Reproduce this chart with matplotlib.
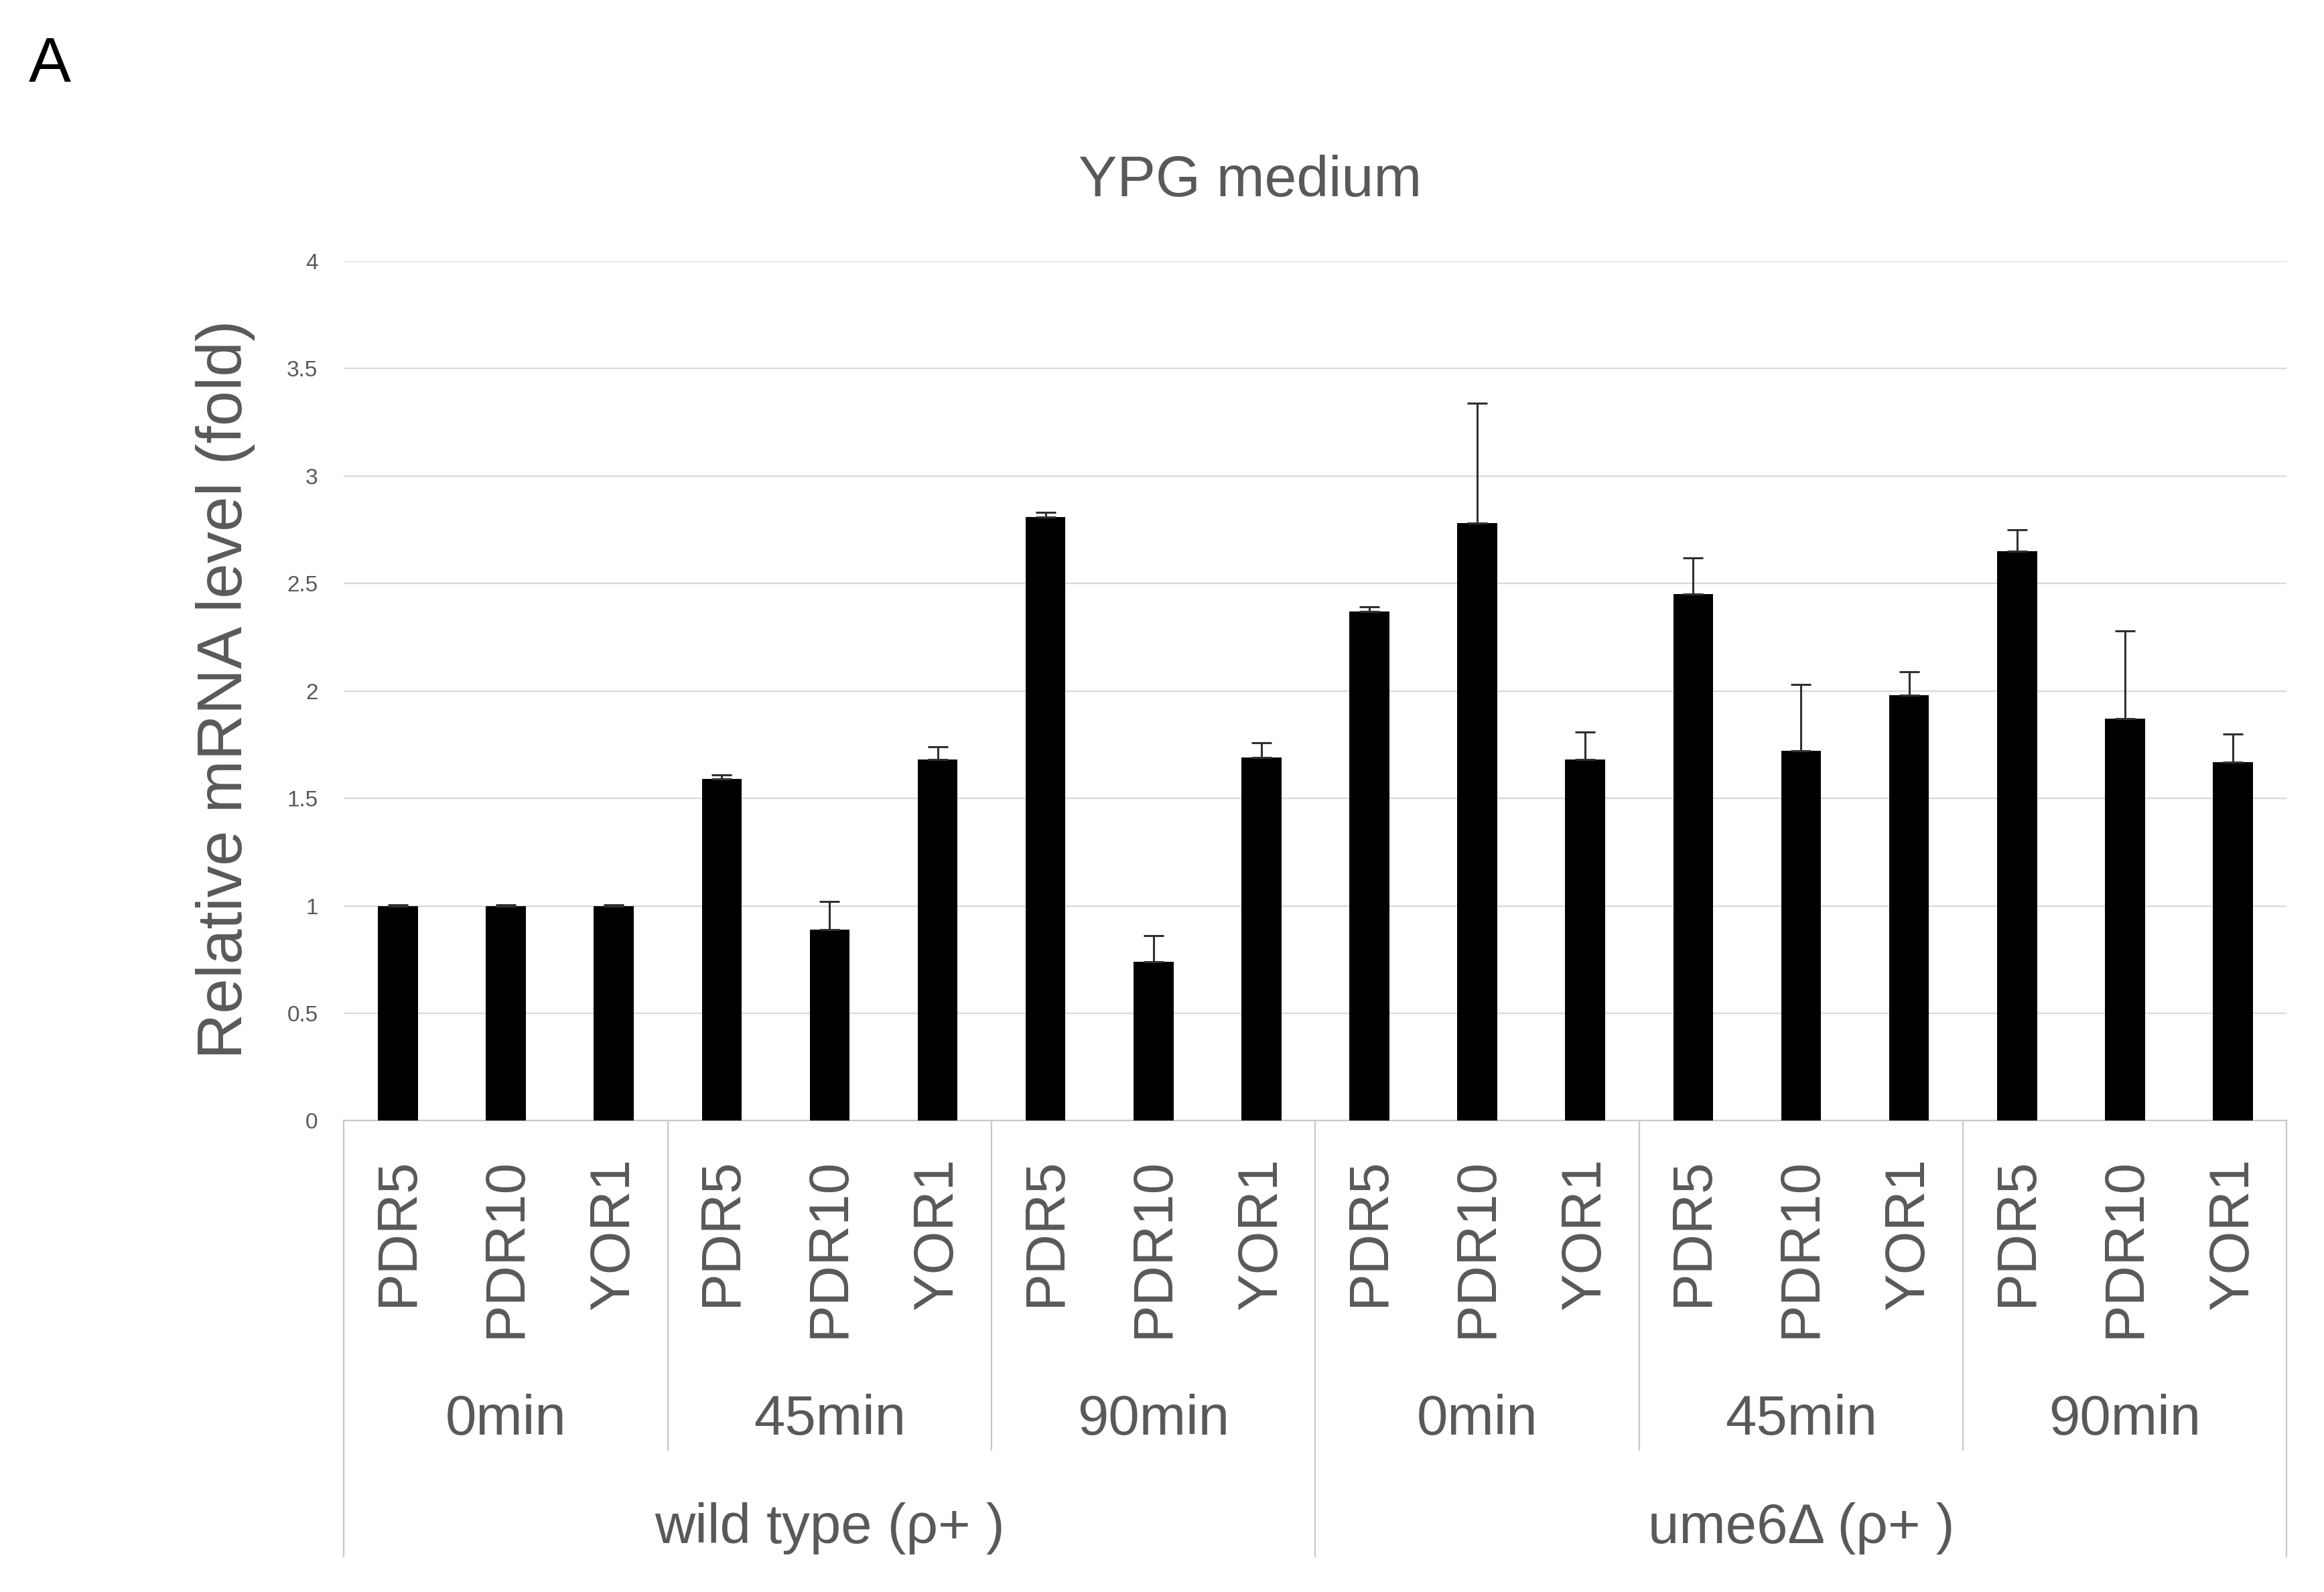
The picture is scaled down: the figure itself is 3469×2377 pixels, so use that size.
import numpy as np
import matplotlib
matplotlib.use("Agg")
import matplotlib.pyplot as plt

plt.rcParams['font.family'] = ['Liberation Sans', 'DejaVu Sans']

genes = ["PDR5", "PDR10", "YOR1"] * 6
times = ["0min", "45min", "90min", "0min", "45min", "90min"]
strains = ["wild type (ρ+ )", "ume6Δ (ρ+ )"]

# mean relative mRNA level
values = [1.00, 1.00, 1.00,
          1.59, 0.89, 1.68,
          2.81, 0.74, 1.69,
          2.37, 2.78, 1.68,
          2.45, 1.72, 1.98,
          2.65, 1.87, 1.67]
# upper error bar
errors = [0.005, 0.005, 0.005,
          0.02, 0.13, 0.06,
          0.02, 0.12, 0.07,
          0.02, 0.56, 0.13,
          0.17, 0.31, 0.11,
          0.10, 0.41, 0.13]

grey = "#595959"
line_grey = "#c8c8c8"

fig = plt.figure(figsize=(17.345, 11.885), dpi=200)
ax = fig.add_axes([0.148, 0.296, 0.836, 0.540])

x = np.arange(len(values))
ax.bar(x, values, width=0.37, color="black", zorder=3)
ax.errorbar(x, values, yerr=[np.zeros(len(errors)), errors], fmt="none",
            ecolor="#303030", elinewidth=1.1, capsize=5.5, capthick=1.1, zorder=4)

ax.set_xlim(-0.5, len(values) - 0.5)
ax.set_ylim(0, 4)
ax.set_yticks([0, 0.5, 1, 1.5, 2, 2.5, 3, 3.5, 4])
ax.set_yticklabels(["0", "0.5", "1", "1.5", "2", "2.5", "3", "3.5", "4"])
ax.tick_params(axis="y", length=0, pad=14, labelsize=12, labelcolor=grey)
ax.yaxis.grid(True, color="#d9d9d9", linewidth=0.8, zorder=0)
ax.set_axisbelow(True)
for s in ["top", "right", "left"]:
    ax.spines[s].set_visible(False)
ax.spines["bottom"].set_color(line_grey)
ax.spines["bottom"].set_linewidth(0.8)

ax.set_xticks(x)
ax.set_xticklabels(genes, rotation=90, fontsize=30, color=grey, va="top")
ax.tick_params(axis="x", length=0, pad=20)

# multi-level category axis
trans = ax.get_xaxis_transform()
for b in [-0.5, 8.5, 17.5]:
    ax.plot([b, b], [0, -0.507], transform=trans, color=line_grey, lw=0.8, clip_on=False)
for b in [2.5, 5.5, 11.5, 14.5]:
    ax.plot([b, b], [0, -0.383], transform=trans, color=line_grey, lw=0.8, clip_on=False)
for i, t in enumerate(times):
    ax.text(3 * i + 1, -0.348, t, transform=trans, ha="center", va="center",
            fontsize=30, color=grey)
for i, s in enumerate(strains):
    ax.text(9 * i + 4, -0.474, s, transform=trans, ha="center", va="center",
            fontsize=30, color=grey)

fig.text(0.097, 0.567, "Relative mRNA level (fold)", rotation=90, ha="center",
         va="center", fontsize=34, color=grey)
fig.text(0.538, 0.886, "YPG medium", ha="center", va="center", fontsize=31, color=grey)
fig.text(0.0124, 0.9487, "A", ha="left", va="baseline", fontsize=34, color="black")

fig.savefig("out.png", dpi=200, facecolor="white")
